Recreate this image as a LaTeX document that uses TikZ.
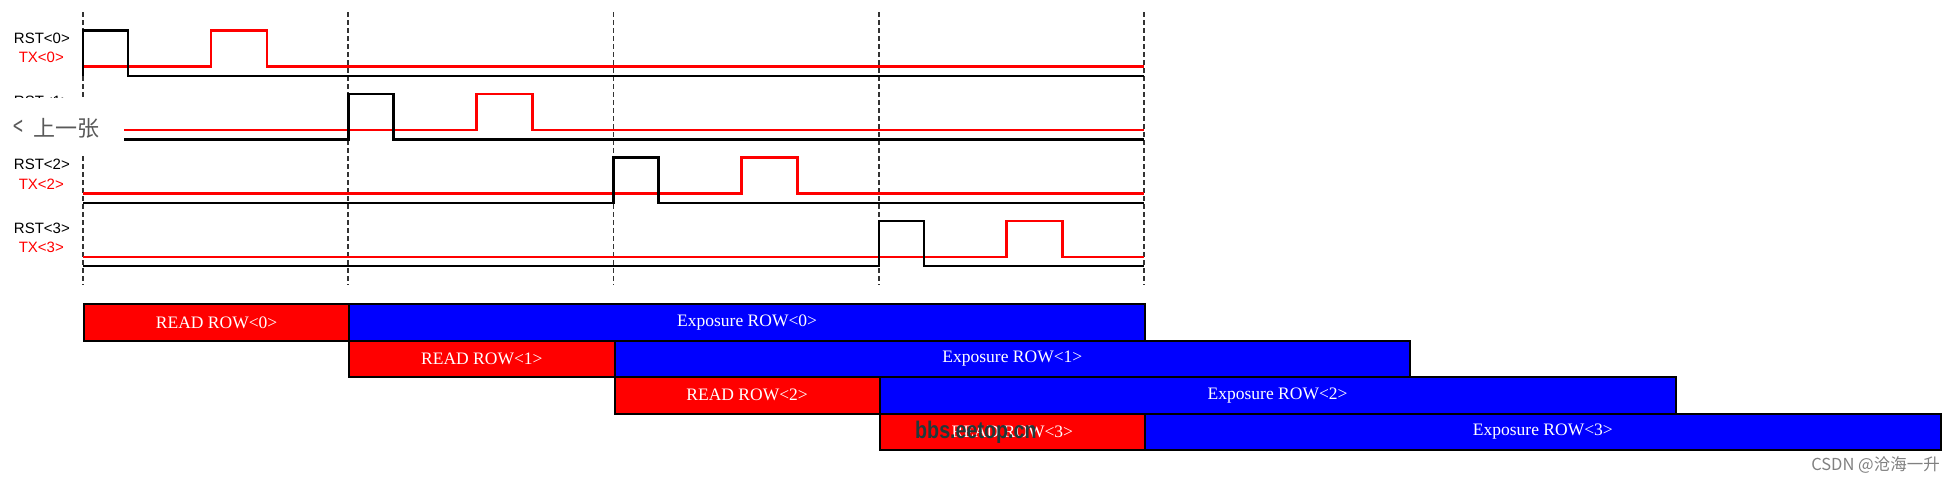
\documentclass[tikz,border=0pt]{standalone}
\usepackage{fontspec}
\setmainfont{Liberation Sans}
\newfontfamily\serifrm{Liberation Serif}
\newfontfamily\cjk{Noto Sans CJK SC}
\definecolor{wmark}{HTML}{1E3B3B}
\begin{document}
\begin{tikzpicture}[x=1pt,y=-1pt,
  rstline/.style={draw=black, line width=2.5pt},
  txline/.style={draw=red, line width=2.6pt},
  vline/.style={draw=black!80, line width=1.7pt, dash pattern=on 4.5pt off 3.5pt},
  siglabel/.style={anchor=east, inner sep=0pt, font=\fontsize{15}{17}\selectfont},
  bar/.style={draw=black, line width=2pt, anchor=north west, inner sep=0pt,
    minimum height=36.4pt, text=white, font=\serifrm\fontsize{17.5}{19}\selectfont},
  readbar/.style={bar, fill=red, minimum width=265.25pt},
  expbar/.style={bar, fill=blue, minimum width=795.75pt}]
\useasboundingbox (0,0) rectangle (1955,482);
% dashed time markers
\foreach \i in {0,...,4} {
  \pgfmathsetmacro\xx{83+265.25*\i}
  \coordinate (vt\i) at (\xx,12);
  \coordinate (vb\i) at (\xx,285);
  \draw[vline] (vt\i) -- (vb\i);
}
% signals
\foreach \k in {0,...,3} {
  \pgfmathsetmacro\s{83+265.25*\k}
  \pgfmathsetmacro\hi{30.7+63.4*\k}
  \pgfmathsetmacro\tl{66.7+63.4*\k}
  \pgfmathsetmacro\rl{76+63.4*\k}
  \draw[txline] (83,\tl) -- (\s+128,\tl) -- (\s+128,\hi) -- (\s+184,\hi) -- (\s+184,\tl) -- (1144,\tl);
  \draw[rstline] (83,\rl) -- (\s,\rl) -- (\s,\hi) -- (\s+45,\hi) -- (\s+45,\rl) -- (1144,\rl);
  \node[siglabel] (rstlab\k) at (70,{38+63.4*\k}) {RST<\k>};
  \node[siglabel, text=red] (txlab\k) at (64,{57+63.4*\k}) {TX<\k>};
}
% bars
\foreach \k in {0,...,3} {
  \pgfmathsetmacro\s{83+265.25*\k}
  \pgfmathsetmacro\t{303.3+36.4*\k}
  \node[readbar] (read\k) at (\s,\t) {READ ROW<\k>};
  \node[expbar] (exp\k) at (\s+265.25,\t) {Exposure ROW<\k>};
}
% overlay button
\fill[white] (0,98) rectangle (124,155);
\node[anchor=west, inner sep=0pt, text=black!65, font=\cjk\fontsize{22}{24}\selectfont] (prev) at (13,128)
  {\scalebox{0.8}[1.25]{<}\hspace{11pt}上一张};
% watermarks
\node[anchor=west, inner sep=0pt, text=wmark, font=\bfseries\fontsize{24}{26}\selectfont] (wm) at (915,432) {\scalebox{0.82}[1]{bbs.eetop.cn}};
\node[anchor=east, inner sep=0pt, text=black!50, font=\cjk\fontsize{16.5}{18}\selectfont] (csdn) at (1940,465) {CSDN @沧海一升};
\end{tikzpicture}
\end{document}
